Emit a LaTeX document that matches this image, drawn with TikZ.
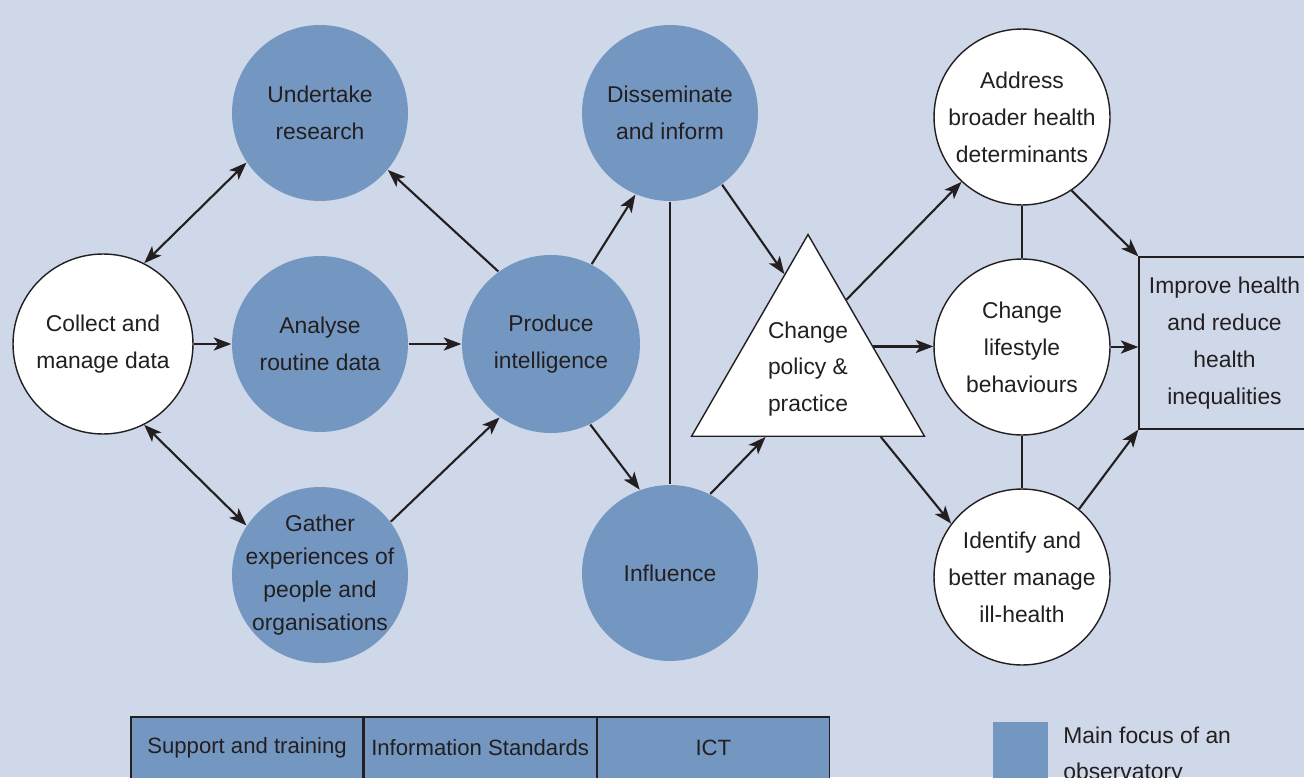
\documentclass[tikz,border=0pt]{standalone}
\usepackage{fontspec}
\setmainfont{Liberation Sans}
\usepackage{tikz}
\usetikzlibrary{positioning,shapes.geometric,arrows.meta}
\definecolor{bgblue}{HTML}{CFD8E9}
\definecolor{obsblue}{HTML}{7497C2}
\definecolor{inkgrey}{HTML}{231F20}
\tikzset{
	stage/.style={circle, line width=0.8pt, minimum size=3.52cm, inner sep=0pt,
		align=center, text=inkgrey, font=\fontsize{13}{21}\selectfont},
	focus/.style={stage, fill=obsblue},
	outcome/.style={stage, draw=inkgrey, fill=white},
	link/.style={draw=inkgrey, line width=1.2pt, -{Stealth[length=10pt,width=7.5pt,inset=2.5pt]}},
	twoway/.style={link, {Stealth[length=10pt,width=7.5pt,inset=2.5pt]}-{Stealth[length=10pt,width=7.5pt,inset=2.5pt]}},
	tie/.style={draw=inkgrey, line width=1.2pt},
	cell/.style={rectangle, draw=inkgrey, line width=0.7pt, fill=obsblue, minimum width=4.64cm,
		minimum height=1.24cm, inner sep=0pt, text=inkgrey, font=\fontsize{12.6}{14}\selectfont}
}

\begin{document}
\begin{tikzpicture}[x=0.02cm, y=-0.02cm]
	
	\clip (0, 0) rectangle (1304, 777);
	\fill[bgblue] (0, 0) rectangle (1304, 777);
	
	% left half
	\node[outcome, minimum size=3.6cm] (collect) at (103, 344) {Collect and\\manage data};
	\node[focus] (research) at (320, 113) {Undertake\\research};
	\node[focus] (analyse) at (320, 344) {Analyse\\routine data};
	\node[focus, inner sep=-8pt, font=\fontsize{13}{18.8}\selectfont] (gather) at (320, 575)
		{Gather\\experiences of\\people and\\organisations};
	\node[focus, minimum size=3.56cm] (produce) at (551, 344) {Produce\\intelligence};
	\node[focus] (dissem) at (670, 113) {Disseminate\\and inform};
	\node[focus] (influence) at (670, 573) {Influence};
	
	% right half
	\node[regular polygon, regular polygon sides=3, draw=inkgrey, line width=0.8pt, fill=white,
		minimum size=5.36cm, inner sep=0pt, align=center, text=inkgrey,
		font=\fontsize{13}{21}\selectfont] (policy) at (808, 369) {Change\\policy \&\\practice};
	\node[outcome] (address) at (1022, 117) {Address\\broader health\\determinants};
	\node[outcome] (lifestyle) at (1022, 347) {Change\\lifestyle\\behaviours};
	\node[outcome] (illhealth) at (1022, 577) {Identify and\\better manage\\ill-health};
	\node[rectangle, draw=inkgrey, line width=0.7pt, minimum width=3.42cm, minimum height=3.44cm,
		inner sep=0pt, align=center, text=inkgrey, font=\fontsize{13}{21}\selectfont]
		(improve) at (1224.5, 343) {Improve health\\and reduce\\health\\inequalities};
	
	% connectors
	\draw[twoway] (collect.63) -- (research.214);
	\draw[link] (collect) -- (analyse);
	\draw[twoway] (collect.-63) -- (gather.146);
	\draw[link] (analyse) -- (produce);
	\draw[link] (gather.37) -- (produce.235);
	\draw[link] (produce.126) -- (research.-40);
	\draw[link] (produce.63) -- (dissem.247);
	\draw[link] (produce.-64) -- (influence.110);
	\draw[tie] (dissem.south) -- (influence.north);
	\draw[link] (dissem.-54) -- (policy.104);
	\draw[link] (influence.63) -- (policy.238);
	\draw[link] (policy.61) -- (address.227);
	\draw[link] (policy.19) -- (policy.19 -| lifestyle.west);
	\draw[link] (policy.-43) -- (illhealth.143);
	\draw[tie] (address.south) -- (lifestyle.north);
	\draw[tie] (lifestyle.south) -- (illhealth.north);
	\draw[link] (address.-56) -- (improve.north west);
	\draw[link] (lifestyle.east) -- (lifestyle.east -| improve.west);
	\draw[link] (illhealth.50) -- (improve.south west);
	
	% support bar
	\node[cell] (support) at (247, 748) {Support and training};
	\node[cell, right=0pt of support] (standards) {Information Standards};
	\node[cell, right=0pt of standards] (ict) {ICT};
	
	% key
	\fill[obsblue] (993, 722) rectangle (1048, 790);
	\node[anchor=north west, align=left, inner sep=0pt, text=inkgrey, font=\fontsize{13}{20}\selectfont]
		(keytext) at (1063, 727) {Main focus of an\\observatory};

\end{tikzpicture}
\end{document}
